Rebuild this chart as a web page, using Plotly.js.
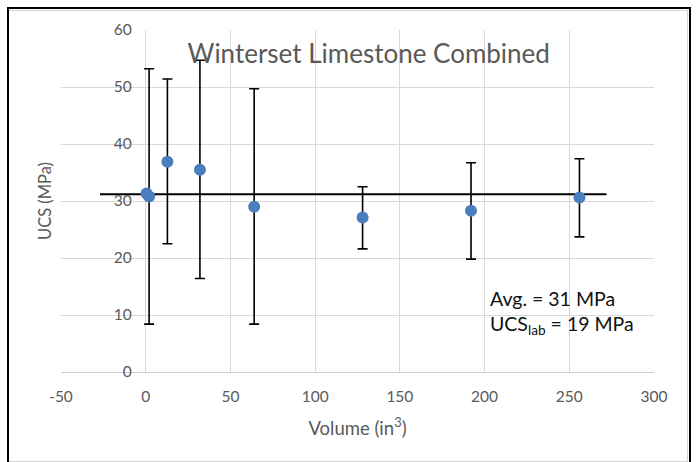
<!DOCTYPE html>
<html>
<head>
<meta charset="utf-8">
<script src="https://cdn.plot.ly/plotly-3.0.1.min.js"></script>
<style>
  html, body { margin: 0; padding: 0; background: #ffffff; }
  #wrap { position: relative; width: 697px; height: 462px; overflow: hidden; }
  #chart { position: absolute; left: 0; top: 0; width: 697px; height: 462px; }
  .frame-outer { position: absolute; left: 7px; top: 7px; width: 680px; height: 470px;
                 border: 2px solid #000; pointer-events: none; }
  .frame-inner { position: absolute; left: 9px; top: 10px; width: 678px; height: 450px;
                 border: 1px solid #d4d4d4; border-left: none; pointer-events: none; }
</style>
</head>
<body>
<div id="wrap">
  <div id="chart"></div>
  <div class="frame-inner"></div>
  <div class="frame-outer"></div>
</div>
<script>
// Specimen volume (in^3) and mean UCS (MPa) for each size group
const volume = [0.5, 2, 12.8, 32, 64, 128, 192, 256];
const ucs    = [31.3, 30.8, 36.9, 35.5, 29.0, 27.1, 28.3, 30.6];
// Range of measured strengths in each group (max / min), MPa
const ucsMax = [null, 53.2, 51.4, 54.7, 49.7, 32.5, 36.7, 37.4];
const ucsMin = [null, 8.4, 22.5, 16.4, 8.4, 21.6, 19.8, 23.7];
// Horizontal extent of the average line (in^3)
const avgSpan = [-27, 272];
// Laboratory reference strength, MPa
const ucsLab = 19;
// Axis tick values and labels (plain hyphen for negatives)
const xTicks = [-50, 0, 50, 100, 150, 200, 250, 300];
const xTickText = ['-50', '0', '50', '100', '150', '200', '250', '300'];
const yTicks = [0, 10, 20, 30, 40, 50, 60];

const avg = ucs.reduce((s, v) => s + v, 0) / ucs.length;

const errPlus  = ucs.map((v, i) => ucsMax[i] == null ? null : ucsMax[i] - v);
const errMinus = ucs.map((v, i) => ucsMin[i] == null ? null : v - ucsMin[i]);

const FONT = 'Lato, "Open Sans", sans-serif';
const GREY = '#595959';

const traces = [
  {
    x: avgSpan,
    y: avgSpan.map(() => avg),
    type: 'scatter',
    mode: 'lines',
    line: { color: '#000000', width: 2 },
    hoverinfo: 'skip',
    showlegend: false
  },
  {
    x: volume,
    y: ucs,
    type: 'scatter',
    mode: 'markers',
    marker: { color: '#4a7ebf', size: 12 },
    error_y: {
      type: 'data',
      symmetric: false,
      array: errPlus,
      arrayminus: errMinus,
      color: '#000000',
      thickness: 1.6,
      width: 5
    },
    showlegend: false
  }
];

const layout = {
  width: 697,
  height: 462,
  margin: { l: 61, r: 43, t: 30, b: 90 },
  paper_bgcolor: '#ffffff',
  plot_bgcolor: '#ffffff',
  font: { family: FONT, color: GREY },
  showlegend: false,
  title: {
    text: 'Winterset Limestone Combined',
    font: { family: FONT, size: 26, color: GREY },
    xref: 'container', yref: 'container',
    x: 0.529, y: 1 - 54 / 462,
    xanchor: 'center', yanchor: 'middle'
  },
  xaxis: {
    range: [-50, 300],
    tickmode: 'array', tickvals: xTicks, ticktext: xTickText,
    showgrid: true, gridcolor: '#d9d9d9', gridwidth: 1,
    zeroline: true, zerolinecolor: '#d9d9d9', zerolinewidth: 1,
    showline: false,
    ticks: '',
    ticklabelstandoff: 13,
    tickfont: { family: FONT, size: 15.5, color: GREY },
    title: { text: 'Volume (in<sup>3</sup>)', font: { family: FONT, size: 18.5, color: GREY }, standoff: 18 },
    fixedrange: true
  },
  yaxis: {
    range: [0, 60],
    tickmode: 'array', tickvals: yTicks,
    anchor: 'free', position: 1 / 7,
    showgrid: true, gridcolor: '#d9d9d9', gridwidth: 1,
    zeroline: true, zerolinecolor: '#cfcfcf', zerolinewidth: 1,
    showline: false,
    ticks: '',
    ticklabelstandoff: 14,
    tickfont: { family: FONT, size: 15.5, color: GREY },
    fixedrange: true
  },
  shapes: [
    {
      type: 'rect', layer: 'between',
      xref: 'paper', yref: 'paper',
      x0: 0.693, x1: 0.997, y0: 0.064, y1: 0.278,
      fillcolor: '#ffffff', line: { width: 0 }
    }
  ],
  annotations: [
    {
      xref: 'paper', yref: 'paper', x: -16 / 593, y: 0.5,
      xanchor: 'center', yanchor: 'middle', textangle: -90, showarrow: false,
      text: 'UCS (MPa)', font: { family: FONT, size: 16.5, color: GREY }
    },
    {
      xref: 'paper', yref: 'paper', x: 0.72, y: 0.216,
      xanchor: 'left', yanchor: 'middle', showarrow: false,
      text: 'Avg. = ' + Math.round(avg) + ' MPa',
      font: { family: FONT, size: 19.5, color: '#111111' }
    },
    {
      xref: 'paper', yref: 'paper', x: 0.72, y: 0.137,
      xanchor: 'left', yanchor: 'middle', showarrow: false,
      text: 'UCS<sub>lab</sub> = ' + ucsLab + ' MPa',
      font: { family: FONT, size: 19.5, color: '#111111' }
    }
  ]
};

Plotly.newPlot('chart', traces, layout, { displayModeBar: false, staticPlot: true });
</script>
</body>
</html>
